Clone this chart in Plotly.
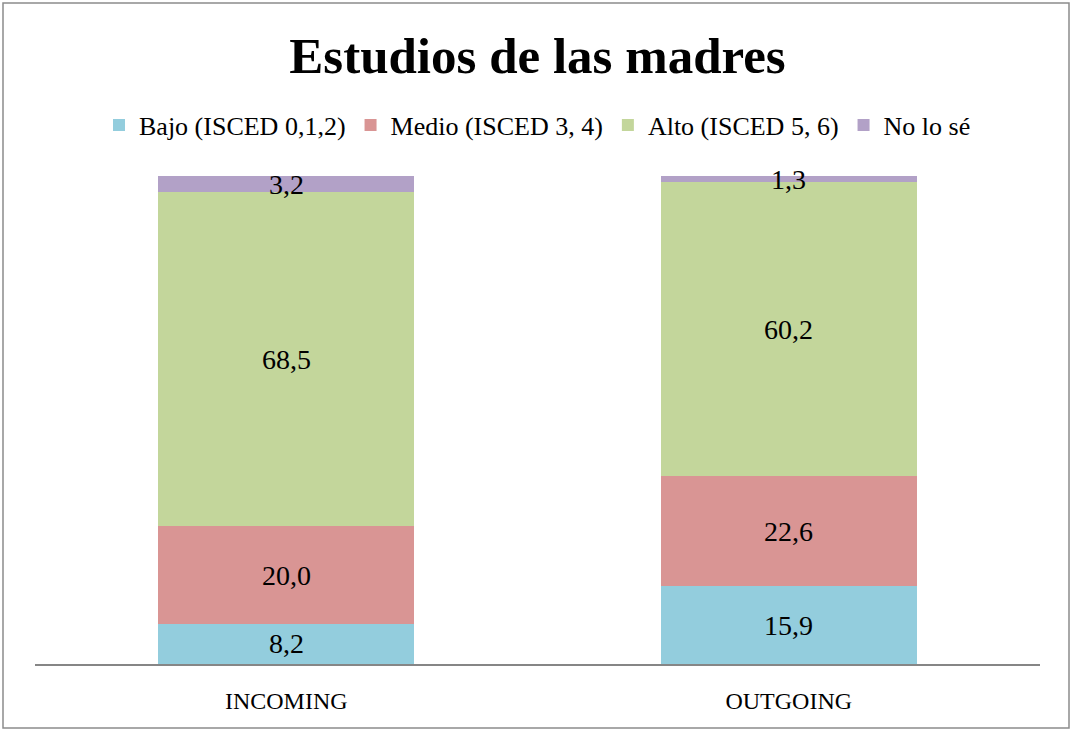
import plotly.graph_objects as go

categories = ["INCOMING", "OUTGOING"]
series_names = ["Bajo (ISCED 0,1,2)", "Medio (ISCED 3, 4)", "Alto (ISCED 5, 6)", "No lo sé"]
bajo = [8.2, 15.9]
medio = [20.0, 22.6]
alto = [68.5, 60.2]
no_lo_se = [3.2, 1.3]
colors = ["#93CDDD", "#D99594", "#C3D69B", "#B2A1C7"]
title_text = "Estudios de las madres"

FONT = "Liberation Serif"
series = [bajo, medio, alto, no_lo_se]

fig = go.Figure()
for name, vals, col in zip(series_names, series, colors):
    fig.add_trace(go.Bar(x=categories, y=vals, name=name, marker=dict(color=col, line=dict(width=0))))

annotations = []
for ci, cat in enumerate(categories):
    base = 0.0
    for vals in series:
        v = vals[ci]
        annotations.append(dict(x=cat, y=base + v / 2, xref="x", yref="y", text=f"{v:.1f}".replace(".", ","),
                                showarrow=False, font=dict(family=FONT, size=28, color="black")))
        base += v

fig.update_layout(
    barmode="stack",
    bargap=0.49,
    width=1075, height=731,
    margin=dict(l=35, r=35, t=176, b=67),
    paper_bgcolor="white", plot_bgcolor="white",
    font=dict(family=FONT, color="black"),
    title=dict(text=f"<b>{title_text}</b>", x=0.5, xanchor="center", y=1 - 55 / 731, yanchor="middle",
               font=dict(family=FONT, size=51, color="black")),
    legend=dict(orientation="h", x=0.5, xanchor="center", y=(664 - 125) / 488, yanchor="middle",
                font=dict(family=FONT, size=26), traceorder="normal", itemwidth=30),
    showlegend=True,
    annotations=annotations,
    xaxis=dict(showline=True, linecolor="#868686", linewidth=2, ticks="outside", ticklen=14,
               tickcolor="rgba(0,0,0,0)", tickfont=dict(family=FONT, size=24), showgrid=False),
    yaxis=dict(range=[0, 100], visible=False, showgrid=False),
    shapes=[dict(type="rect", xref="paper", yref="paper", x0=(3 - 35) / 1005, x1=(1069 - 35) / 1005,
                 y0=(664 - 728) / 488, y1=(664 - 3) / 488, line=dict(color="#8C8C8C", width=1.5), layer="below")],
)

fig.write_html("out.html", config={"displayModeBar": False},
               post_script="document.body.style.margin='0';")
